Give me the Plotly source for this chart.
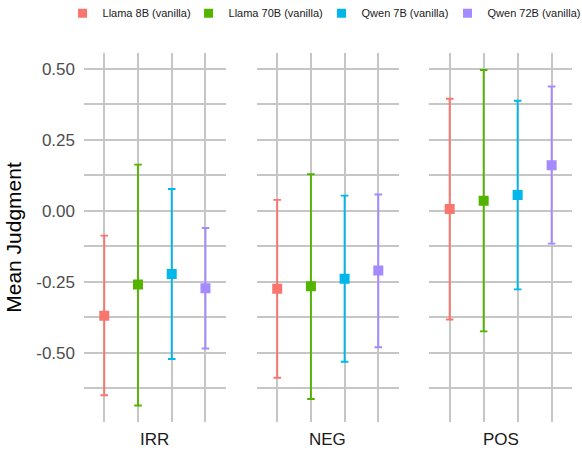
import plotly.graph_objects as go

conditions = ["IRR", "NEG", "POS"]
models = ["Llama 8B (vanilla)", "Llama 70B (vanilla)", "Qwen 7B (vanilla)", "Qwen 72B (vanilla)"]
colors = ["#F8766D", "#53B400", "#00B6EB", "#A58AFF"]

llama8b_mean = [-0.370, -0.275, 0.006]
llama8b_lo = [-0.650, -0.588, -0.383]
llama8b_hi = [-0.088, 0.038, 0.394]
llama70b_mean = [-0.260, -0.266, 0.035]
llama70b_lo = [-0.686, -0.663, -0.425]
llama70b_hi = [0.162, 0.128, 0.495]
qwen7b_mean = [-0.223, -0.240, 0.055]
qwen7b_lo = [-0.522, -0.532, -0.277]
qwen7b_hi = [0.076, 0.053, 0.387]
qwen72b_mean = [-0.273, -0.211, 0.160]
qwen72b_lo = [-0.485, -0.481, -0.116]
qwen72b_hi = [-0.061, 0.057, 0.437]

means = [llama8b_mean, llama70b_mean, qwen7b_mean, qwen72b_mean]
lows = [llama8b_lo, llama70b_lo, qwen7b_lo, qwen72b_lo]
highs = [llama8b_hi, llama70b_hi, qwen7b_hi, qwen72b_hi]

FONT = "Liberation Sans, Arial, sans-serif"
GRID = "#c6c6c6"
GW = 1.5
legend_widths = [81, 88, 81, 92]

fig = go.Figure()
domains = [[0, 0.2904], [0.3545, 0.6445], [0.7076, 1.0]]

for p, cond in enumerate(conditions):
    xa = "x" if p == 0 else f"x{p+1}"
    for m, model in enumerate(models):
        mu = means[m][p]
        fig.add_trace(go.Scatter(
            x=[m + 1], y=[mu], xaxis=xa, yaxis="y",
            mode="markers",
            marker=dict(symbol="square", size=10, color=colors[m]),
            error_y=dict(type="data", symmetric=False,
                         array=[highs[m][p] - mu], arrayminus=[mu - lows[m][p]],
                         color=colors[m], thickness=1.9, width=3.8),
            showlegend=False, name=model, hoverinfo="skip",
        ))

for m, model in enumerate(models):
    fig.add_trace(go.Scatter(
        x=[None], y=[None], mode="markers", name=model,
        marker=dict(symbol="square", size=9, color=colors[m]),
        showlegend=True, legendwidth=legend_widths[m],
    ))

axis_common = dict(range=[0.4, 4.6], tickvals=[1, 2, 3, 4], showticklabels=False,
                   showgrid=True, gridcolor=GRID, gridwidth=GW, zeroline=False,
                   showline=False, ticks="", fixedrange=True)
layout = dict(
    width=582, height=450,
    margin=dict(l=84, r=10, t=53, b=28, autoexpand=False),
    paper_bgcolor="white", plot_bgcolor="white",
    font=dict(family=FONT, color="#1a1a1a"),
    yaxis=dict(range=[-0.744, 0.555], tickvals=[0.5, 0.25, 0.0, -0.25, -0.5],
               ticktext=["0.50", "0.25", "0.00", "-0.25", "-0.50"],
               tickfont=dict(size=17, color="#4d4d4d"),
               showgrid=True, gridcolor=GRID, gridwidth=GW, zeroline=False,
               minor=dict(tickvals=[0.375, 0.125, -0.125, -0.375, -0.625], showgrid=True,
                          gridcolor=GRID, gridwidth=GW),
               title=dict(text="Mean Judgment", font=dict(size=21, color="black"), standoff=8),
               ticks="", ticklabelstandoff=8, fixedrange=True),
    legend=dict(orientation="h", xref="paper", yref="paper", x=-0.044, xanchor="left",
                y=1.108, yanchor="middle", font=dict(size=11, color="#1a1a1a"),
                bgcolor="rgba(0,0,0,0)"),
    showlegend=True,
)
for p in range(3):
    key = "xaxis" if p == 0 else f"xaxis{p+1}"
    ax = dict(axis_common)
    ax["domain"] = domains[p]
    ax["anchor"] = "y"
    layout[key] = ax
fig.update_layout(**layout)

for p, cond in enumerate(conditions):
    xr = "x domain" if p == 0 else f"x{p+1} domain"
    fig.add_annotation(text=cond, xref=xr, x=0.5, yref="paper", y=-0.047, yanchor="middle",
                       showarrow=False, font=dict(size=17, color="#1a1a1a"))

fig.write_html("out.html", config={"displayModeBar": False},
               post_script="document.body.style.margin='0px';")
